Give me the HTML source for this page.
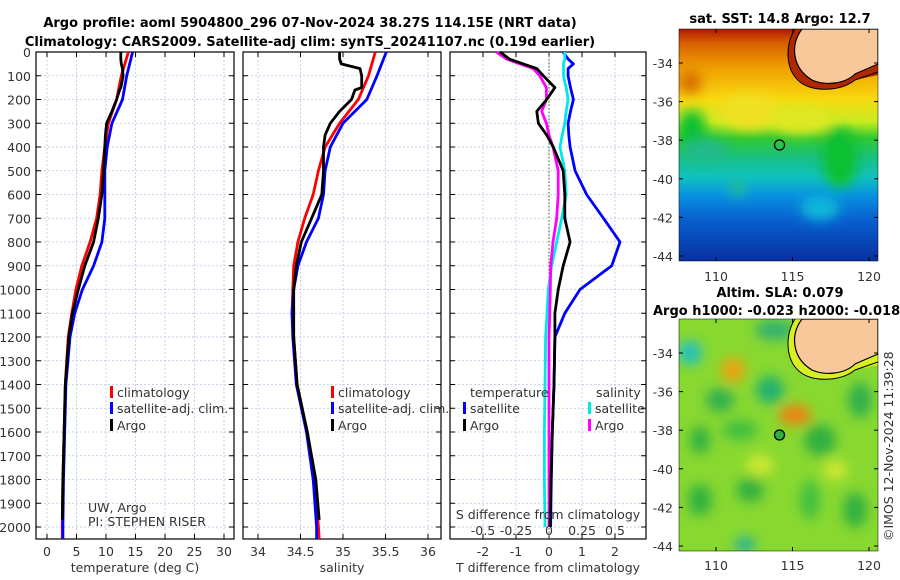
<!DOCTYPE html>
<html><head><meta charset="utf-8"><style>
body{margin:0;background:#fff;}
svg{display:block;font-family:"DejaVu Sans","Liberation Sans",sans-serif;}
.t{font-size:12.5px;fill:#333;}
.b{font-weight:bold;font-size:13px;fill:#000;}
</style></head><body>
<svg id="c" width="900" height="580" viewBox="0 0 900 580">
<defs>
<filter id="bl" x="-20%" y="-20%" width="140%" height="140%"><feGaussianBlur stdDeviation="6"/></filter>
<filter id="bl2" x="-20%" y="-20%" width="140%" height="140%"><feGaussianBlur stdDeviation="4"/></filter>
<clipPath id="m1"><rect x="679" y="29" width="199" height="232"/></clipPath>
<clipPath id="m2"><rect x="679" y="319" width="199" height="232"/></clipPath>
<linearGradient id="sst" x1="0" y1="0" x2="0" y2="1">
<stop offset="0" stop-color="#b01800"/><stop offset="0.06" stop-color="#d86000"/>
<stop offset="0.17" stop-color="#f0a000"/><stop offset="0.3" stop-color="#f8d810"/>
<stop offset="0.4" stop-color="#c8ec20"/><stop offset="0.47" stop-color="#30c830"/>
<stop offset="0.56" stop-color="#18c088"/><stop offset="0.64" stop-color="#10c0c0"/>
<stop offset="0.72" stop-color="#0890e0"/><stop offset="0.82" stop-color="#0860d0"/>
<stop offset="1" stop-color="#0830a0"/></linearGradient>
</defs>
<text class="b" x="310" y="27" text-anchor="middle">Argo profile: aoml 5904800_296 07-Nov-2024 38.27S 114.15E (NRT data)</text>
<text class="b" x="310" y="46" text-anchor="middle">Climatology: CARS2009. Satellite-adj clim: synTS_20241107.nc (0.19d earlier)</text>
<g id="panels"></g>

<!-- SST map -->
<g>
<text class="b" x="780" y="23" text-anchor="middle">sat. SST: 14.8 Argo: 12.7</text>
<g clip-path="url(#m1)">
<rect x="679" y="29" width="199" height="232" fill="url(#sst)"/>
<g filter="url(#bl)">
<ellipse cx="692" cy="128" rx="14" ry="18" fill="#10c030"/>
<ellipse cx="840" cy="158" rx="18" ry="30" fill="#10c030"/>
<ellipse cx="705" cy="150" rx="22" ry="10" fill="#20b890"/>
<ellipse cx="738" cy="188" rx="8" ry="8" fill="#20c090"/>
<ellipse cx="750" cy="112" rx="30" ry="18" fill="#f0e020"/>
<ellipse cx="800" cy="120" rx="30" ry="14" fill="#e0e820"/>
<ellipse cx="690" cy="82" rx="12" ry="12" fill="#d87000"/>
<ellipse cx="820" cy="208" rx="20" ry="12" fill="#10b8d8"/>
</g>
<path d="M795,29 C785,45 785,70 800,82 C812,92 840,92 855,80 L878,75 L878,29 Z" fill="#b02800"/>
<path d="M802,29 C790,45 792,68 812,80 C825,86 845,84 855,74 L878,64 L878,29 Z" fill="#f8c89a" stroke="#000" stroke-width="1.2"/>
<path d="M795,29 C785,45 785,70 800,82 C812,92 840,92 855,80 L878,72" fill="none" stroke="#000" stroke-width="1"/>
<circle cx="779.5" cy="145" r="5" fill="none" stroke="#000" stroke-width="1.3"/>
</g>
<rect x="679" y="29" width="199" height="232" fill="none" stroke="#000" stroke-width="0.5"/>
</g>

<!-- SLA map -->
<g>
<text class="b" x="780" y="297" text-anchor="middle">Altim. SLA: 0.079</text>
<text class="b" x="653" y="315">Argo h1000: -0.023 h2000: -0.018</text>
<g clip-path="url(#m2)">
<rect x="679" y="319" width="199" height="232" fill="#88d830"/>
<g filter="url(#bl)">
<ellipse cx="690" cy="353" rx="12" ry="12" fill="#20c0c0"/>
<ellipse cx="733" cy="370" rx="12" ry="12" fill="#f0a010"/>
<ellipse cx="795" cy="415" rx="16" ry="10" fill="#f08010"/>
<ellipse cx="770" cy="390" rx="14" ry="14" fill="#20b070"/>
<ellipse cx="720" cy="400" rx="14" ry="12" fill="#30b050"/>
<ellipse cx="700" cy="440" rx="10" ry="14" fill="#30b040"/>
<ellipse cx="740" cy="430" rx="18" ry="10" fill="#40c040"/>
<ellipse cx="820" cy="440" rx="16" ry="16" fill="#30b040"/>
<ellipse cx="860" cy="400" rx="12" ry="18" fill="#30b050"/>
<ellipse cx="750" cy="490" rx="14" ry="12" fill="#30b040"/>
<ellipse cx="700" cy="500" rx="12" ry="16" fill="#30b040"/>
<ellipse cx="810" cy="500" rx="10" ry="20" fill="#40c040"/>
<ellipse cx="855" cy="510" rx="12" ry="18" fill="#30b040"/>
<ellipse cx="745" cy="545" rx="10" ry="8" fill="#20b0a0"/>
<ellipse cx="775" cy="330" rx="20" ry="10" fill="#30b070"/>
<ellipse cx="760" cy="465" rx="14" ry="10" fill="#d0e830"/>
<ellipse cx="835" cy="470" rx="12" ry="10" fill="#d0e830"/>
</g>
<path d="M795,319 C785,335 785,360 800,372 C812,382 840,382 855,370 L878,365 L878,319 Z" fill="#d8f020"/>
<path d="M802,319 C790,335 792,358 812,370 C825,376 845,374 855,364 L878,354 L878,319 Z" fill="#f8c89a" stroke="#000" stroke-width="1.2"/>
<path d="M795,319 C785,335 785,360 800,372 C812,382 840,382 855,370 L878,362" fill="none" stroke="#000" stroke-width="1"/>
<circle cx="779.5" cy="435" r="5" fill="#30b040" stroke="#000" stroke-width="1.3"/>
</g>
<rect x="679" y="319" width="199" height="232" fill="none" stroke="#000" stroke-width="0.5"/>
</g>
<text class="t" transform="translate(893,541) rotate(-90)">©IMOS 12-Nov-2024 11:39:28</text>
<g id="mapaxes"></g>
</svg>
<script>
// depths (dbar)
const depthClim = [0,100,200,300,400,500,600,700,800,900,1000,1100,1200,1400,1600,1800,2000,2050];
const tempClim = [13.8,12.6,11.8,10.4,9.8,9.3,9.0,8.4,7.3,5.9,4.9,4.2,3.6,3.1,2.9,2.7,2.6,2.6];
const tempSat  = [14.5,13.5,12.8,11.0,10.2,9.8,9.8,9.8,9.3,7.9,6.0,4.7,3.9,3.2,3.0,2.8,2.7,2.7];
const salClim  = [35.38,35.30,35.18,34.96,34.79,34.71,34.65,34.55,34.47,34.42,34.41,34.40,34.42,34.46,34.58,34.67,34.71,34.72];
const salSat   = [35.51,35.40,35.28,35.00,34.85,34.79,34.77,34.71,34.57,34.47,34.42,34.40,34.41,34.45,34.57,34.65,34.69,34.69];
const depthArgo = [0,30,50,70,100,150,160,200,250,300,350,400,500,600,700,800,900,1000,1100,1200,1400,1600,1800,1970];
const tempArgo = [12.5,12.5,12.6,12.8,12.9,12.5,12.3,11.8,11.0,10.1,9.9,9.8,9.6,9.3,8.7,7.9,6.4,5.3,4.3,3.7,3.1,2.9,2.7,2.6];
const salArgo  = [34.96,34.96,34.98,35.20,35.22,35.22,35.14,35.10,34.96,34.85,34.79,34.77,34.77,34.75,34.63,34.51,34.45,34.42,34.42,34.42,34.46,34.58,34.68,34.72];
const depthDiff = [0,30,50,70,100,150,200,250,300,350,400,500,600,700,800,900,1000,1100,1200,1400,1600,1800,2000];
const dTsat  = [0.43,0.58,0.74,0.58,0.58,0.65,0.74,0.65,0.58,0.6,0.64,0.79,1.14,1.65,2.15,1.90,0.94,0.48,0.18,0.15,0.1,0.07,0.05];
const dTargo = [-1.48,-1.2,-0.78,-0.37,-0.17,0.18,-0.07,-0.37,-0.32,-0.07,0.13,0.43,0.48,0.48,0.64,0.43,0.28,0.18,0.18,0.15,0.1,0.06,0.03];
const dSsat  = [0.12,0.12,0.11,0.11,0.11,0.13,0.145,0.13,0.12,0.1,0.083,0.12,0.13,0.096,0.058,0.02,-0.005,-0.015,-0.026,-0.03,-0.035,-0.035,-0.03];
const dSargo = [-0.40,-0.32,-0.22,-0.12,-0.07,-0.02,-0.02,-0.055,-0.02,0.0,0.03,0.07,0.07,0.058,0.03,0.013,0.01,0.005,0,0,0,0,0];
const depthTicks = [0,100,200,300,400,500,600,700,800,900,1000,1100,1200,1300,1400,1500,1600,1700,1800,1900,2000];
const tempTicks = [0,5,10,15,20,25,30];
const salTicks = [34,34.5,35,35.5,36];
const dTTicks = [-2,-1,0,1,2];
const dSTicks = [-0.5,-0.25,0,0.25,0.5];

const NS='http://www.w3.org/2000/svg';
const g=document.getElementById('panels');
const Y=d=>52+d*0.2375;
const xT=v=>47+5.9*v, xS=v=>258+85*(v-34), xD=v=>549+33*v, xDS=v=>549+132*v;
function mk(tag,at,parent){const e=document.createElementNS(NS,tag);for(const k in at)e.setAttribute(k,at[k]);(parent||g).appendChild(e);return e;}
function txt(x,y,s,anchor,parent,cls){const e=mk('text',{x:x,y:y,'text-anchor':anchor||'middle',class:cls||'t'},parent);e.textContent=s;return e;}
const panels=[{x0:36,x1:234,sx:xT,ticks:tempTicks,lab:'temperature (deg C)',name:'temperature-panel'},
 {x0:243,x1:441,sx:xS,ticks:salTicks,lab:'salinity',name:'salinity-panel'},
 {x0:450,x1:646,sx:xD,ticks:dTTicks,lab:'T difference from climatology',name:'difference-panel'}];
panels.forEach((p,i)=>{
 const pg=mk('g',{});
 
 
 depthTicks.forEach(d=>{mk('line',{x1:p.x0,x2:p.x1,y1:Y(d),y2:Y(d),stroke:'#b8c4e0','stroke-width':0.8,'stroke-dasharray':'2,2'},pg);
  mk('line',{x1:p.x0,x2:p.x0+5,y1:Y(d),y2:Y(d),stroke:'#000'},pg);mk('line',{x1:p.x1-5,x2:p.x1,y1:Y(d),y2:Y(d),stroke:'#000'},pg);
  if(i==0){const t=txt(31,Y(d)+5,String(d),'end',pg);}});
 p.ticks.forEach(v=>{const x=p.sx(v);mk('line',{x1:x,x2:x,y1:52,y2:539,stroke:'#b8c4e0','stroke-width':0.8,'stroke-dasharray':'2,2'},pg);
  mk('line',{x1:x,x2:x,y1:539,y2:534,stroke:'#000'},pg);mk('line',{x1:x,x2:x,y1:52,y2:57,stroke:'#000'},pg);
  txt(x,556,String(v),'middle',pg);});
 mk('rect',{x:p.x0,y:52,width:p.x1-p.x0,height:487,fill:'none',stroke:'#000','stroke-width':1.2},pg);
 const l=txt((p.x0+p.x1)/2,572,p.lab,'middle',pg);
 
 
});
// zero line
mk('line',{x1:549,x2:549,y1:52,y2:539,stroke:'#3a6a2a','stroke-width':1,'stroke-dasharray':'1.5,2'});
function line(ds,vs,sx,col,name,clip){
 const pts=ds.map((d,i)=>sx(vs[i]).toFixed(1)+','+Y(d).toFixed(1)).join(' ');
 const e=mk('polyline',{points:pts,fill:'none',stroke:col,'stroke-width':2.8,'stroke-linejoin':'round'});
 
 
}
line(depthClim,tempClim,xT,'#ff0000','temp-climatology-line');
line(depthClim,tempSat,xT,'#0000ff','temp-satellite-line');
line(depthArgo,tempArgo,xT,'#000','temp-argo-line');
line(depthClim,salClim,xS,'#ff0000','sal-climatology-line');
line(depthClim,salSat,xS,'#0000ff','sal-satellite-line');
line(depthArgo,salArgo,xS,'#000','sal-argo-line');
line(depthDiff,dTsat,xD,'#0000ff','t-diff-satellite-line');
line(depthDiff,dSsat,xDS,'#00e8e8','s-diff-satellite-line');
line(depthDiff,dSargo,xDS,'#ff00ff','s-diff-argo-line');
line(depthDiff,dTargo,xD,'#000','t-diff-argo-line');
// S diff axis labels
const st=txt(548,519,'S difference from climatology');


dSTicks.forEach(v=>txt(xDS(v),535,String(v)));
// legends
function leg(x,y,col,s){mk('rect',{x:x,y:y-11,width:3,height:12,fill:col});const e=txt(x+7,y,s,'start');}
[[110,'p1'],[331,'p2']].forEach(([x])=>{leg(x,397,'#ff0000','climatology');leg(x,413,'#0000ff','satellite-adj. clim.');leg(x,430,'#000','Argo');});
txt(470,397,'temperature','start');txt(596,397,'salinity','start');
leg(463,413,'#0000ff','satellite');leg(463,430,'#000','Argo');
leg(588,413,'#00e8e8','satellite');leg(588,430,'#ff00ff','Argo');
const c1=txt(88,512,'UW, Argo','start',g);c1.setAttribute('font-size','11');
const c2=txt(88,526,'PI: STEPHEN RISER','start',g);c2.setAttribute('font-size','11');
// map axes
const ma=document.getElementById('mapaxes');
const lonTicks=[110,115,120];
const latTicks=[-34,-36,-38,-40,-42,-44];
[[29,63,281],[319,353,570]].forEach(([top,y34,yl])=>{
 lonTicks.forEach(v=>{const x=716+(v-110)*15.3;txt(x,yl,String(v),'middle',ma);
  mk('line',{x1:x,x2:x,y1:top+232,y2:top+228,stroke:'#000'},ma);mk('line',{x1:x,x2:x,y1:top,y2:top+4,stroke:'#000'},ma);});
 latTicks.forEach(v=>{const y=y34+(-34-v)*9.65*2;txt(673,y+5,String(v),'end',ma);
  mk('line',{x1:679,x2:683,y1:y,y2:y,stroke:'#000'},ma);mk('line',{x1:878,x2:874,y1:y,y2:y,stroke:'#000'},ma);});
});
</script>
</body></html>
